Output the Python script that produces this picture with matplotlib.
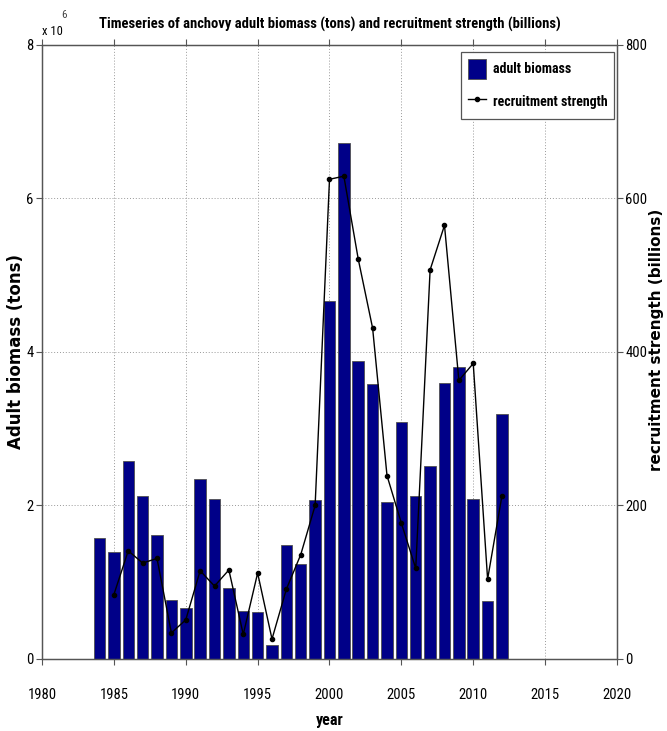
import numpy as np
import matplotlib
matplotlib.use("Agg")
import matplotlib.pyplot as plt
from matplotlib.ticker import MultipleLocator, FuncFormatter

narrow = ['Roboto Condensed', 'DejaVu Sans']
plt.rcParams['font.family'] = narrow

# adult biomass (tons), 1984-2012
bio_years = np.arange(1984, 2013)
biomass = np.array([1.57, 1.39, 2.58, 2.12, 1.62, 0.77, 0.66, 2.34, 2.09, 0.93,
                    0.62, 0.61, 0.18, 1.49, 1.24, 2.07, 4.66, 6.72, 3.88, 3.58,
                    2.05, 3.09, 2.12, 2.51, 3.60, 3.80, 2.09, 0.76, 3.19]) * 1e6

# recruitment strength (billions), 1985-2012
rec_years = np.arange(1985, 2013)
recruit = [84, 141, 125, 131, 34, 51, 115, 95, 116, 32, 112, 26, 91, 136,
           200, 625, 629, 521, 431, 239, 177, 118, 507, 565, 363, 385, 104, 213]

fig = plt.figure(figsize=(6.67, 7.31), dpi=100)
ax = fig.add_axes([0.063, 0.0985, 0.862, 0.840])
ax2 = ax.twinx()

bars = ax.bar(bio_years, biomass, width=0.8, color='#000088', edgecolor='#505050',
              linewidth=0.6, label='adult biomass', zorder=2)
line, = ax2.plot(rec_years, recruit, color='black', marker='o', markersize=3,
                 linewidth=1.0, label='recruitment strength')

ax.set_xlim(1980, 2020)
ax.set_ylim(0, 8e6)
ax2.set_ylim(0, 800)
ax.xaxis.set_major_locator(MultipleLocator(5))
ax.yaxis.set_major_locator(MultipleLocator(2e6))
ax2.yaxis.set_major_locator(MultipleLocator(200))
ax.yaxis.set_major_formatter(FuncFormatter(lambda v, p: f'{v / 1e6:g}'))

ax.grid(True, linestyle=(0, (1, 2)), color='#999999', linewidth=0.7, zorder=0)
ax.set_axisbelow(True)
for a in (ax, ax2):
    a.tick_params(direction='out', length=4, width=0.8, color='#555555',
                  labelsize=10.5, pad=2)
    for s in a.spines.values():
        s.set_color('#555555')
        s.set_linewidth(0.9)
ax.tick_params(top=True, axis='x', pad=17)

ax.text(0.0, 1.012, 'x 10', transform=ax.transAxes, fontsize=9, ha='left', va='bottom')
ax.text(0.033, 1.04, '6', transform=ax.transAxes, fontsize=8, ha='left', va='bottom',
        color='#444444')

ax.set_title('Timeseries of anchovy adult biomass (tons) and recruitment strength (billions)',
             fontsize=10.5, fontweight='bold', pad=12)
ax.set_xlabel('year', fontsize=11.5, fontweight='bold', labelpad=8)
ax.set_ylabel('Adult biomass (tons)', fontsize=12, fontweight='bold',
              family='DejaVu Sans')
ax.yaxis.set_label_coords(-0.03, 0.5)
ax2.set_ylabel('recruitment strength (billions)', fontsize=11, fontweight='bold',
               family='DejaVu Sans')
ax2.yaxis.set_label_coords(1.056, 0.52)

leg = ax2.legend([bars, line], ['adult biomass', 'recruitment strength'],
                 loc='upper right', bbox_to_anchor=(0.995, 0.989), fancybox=False,
                 edgecolor='#555555', framealpha=1, borderpad=0.5, borderaxespad=0,
                 handlelength=1.35, handleheight=1.9, handletextpad=0.45,
                 prop={'weight': 'bold', 'size': 10, 'family': narrow},
                 labelspacing=0.9)
leg.get_frame().set_linewidth(0.9)

fig.savefig('out.png', dpi=100)
